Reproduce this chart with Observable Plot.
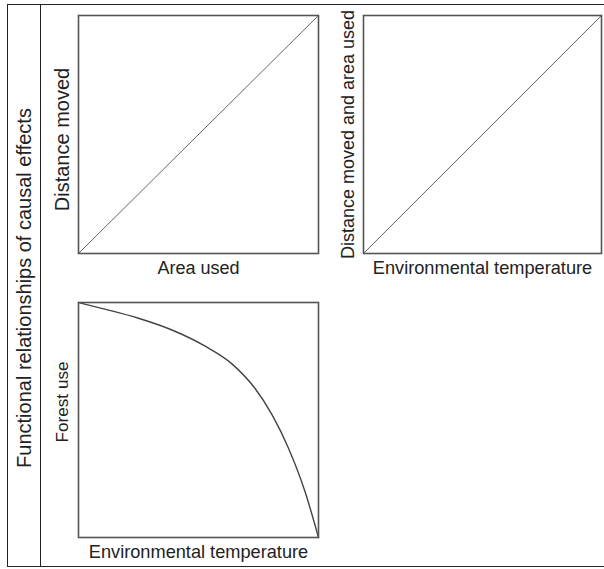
<!DOCTYPE html>
<html>
<head>
<meta charset="utf-8">
<script src="https://cdn.jsdelivr.net/npm/d3@7"></script>
<script src="https://cdn.jsdelivr.net/npm/@observablehq/plot@0.6"></script>
<style>
  html, body { margin: 0; padding: 0; background: #fff; }
  #wrap { position: relative; width: 604px; height: 569px; font-family: "Liberation Sans", Arial, sans-serif; color: #222; }
  .abs { position: absolute; }
  #outer { left: 7px; top: 4px; width: 597px; height: 563px; border: 1.5px solid #222; border-right: none; box-sizing: border-box; }
  #inner { left: 40px; top: 4px; width: 0; height: 563px; border-left: 1.5px solid #222; }
  #title { left: 24px; top: 288px; transform: translate(-50%, -50%) rotate(-90deg); white-space: nowrap; font-size: 20px; }
  svg { overflow: visible; }
</style>
</head>
<body>
<div id="wrap">
  <div id="outer" class="abs"></div>
  <div id="inner" class="abs"></div>
  <div id="title" class="abs">Functional relationships of causal effects</div>
  <div id="p1" class="abs" style="left:0;top:0"></div>
  <div id="p2" class="abs" style="left:320px;top:0"></div>
  <div id="p3" class="abs" style="left:0;top:290px"></div>
</div>
<script>
// Panel data (normalised 0..1 conceptual axes)
const areaUsed = [0, 1];
const distanceMoved = [0, 1];
const envTemp = [0, 1];
const distAndArea = [0, 1];
const forestTemp = [0, 0.109, 0.25, 0.387, 0.526, 0.638, 0.735, 0.805, 0.875, 0.944, 1];
const forestUse  = [1, 0.972, 0.933, 0.884, 0.815, 0.74, 0.635, 0.525, 0.38, 0.195, 0];

const xLabels = ["Area used", "Environmental temperature", "Environmental temperature"];
const yLabels = ["Distance moved", "Distance moved and area used", "Forest use"];

const font = "Liberation Sans, Arial, sans-serif";

function panel({xs, ys, xLabel, yLabel, width, height, ml, mr, mt, mb, lineColor, lineWidth, curve, xSize, ySize, ydx, ydy}) {
  const data = xs.map((x, i) => ({x, y: ys[i]}));
  return Plot.plot({
    width, height,
    marginLeft: ml, marginRight: mr, marginTop: mt, marginBottom: mb,
    x: {domain: [0, 1], axis: null},
    y: {domain: [0, 1], axis: null},
    style: {fontFamily: font, color: "#222", background: "transparent", overflow: "visible"},
    marks: [
      Plot.line(data, {x: "x", y: "y", stroke: lineColor, strokeWidth: lineWidth, curve}),
      Plot.frame({stroke: "#555", strokeWidth: 1.6}),
      Plot.text([xLabel], {frameAnchor: "bottom", dy: 15, text: d => d, fontSize: xSize, fill: "#222", textAnchor: "middle", lineAnchor: "middle"}),
      Plot.text([yLabel], {frameAnchor: "left", dx: ydx, dy: ydy, rotate: -90, text: d => d, fontSize: ySize, fill: "#222", textAnchor: "middle", lineAnchor: "middle"})
    ]
  });
}

document.getElementById("p1").appendChild(panel({
  xs: areaUsed, ys: distanceMoved, xLabel: xLabels[0], yLabel: yLabels[0],
  width: 320, height: 290, ml: 78, mr: 2, mt: 15, mb: 37,
  lineColor: "#666", lineWidth: 1, curve: "linear", xSize: 18, ySize: 20, ydx: -16, ydy: 5
}));
document.getElementById("p2").appendChild(panel({
  xs: envTemp, ys: distAndArea, xLabel: xLabels[1], yLabel: yLabels[1],
  width: 284, height: 290, ml: 43, mr: 3, mt: 15, mb: 37,
  lineColor: "#666", lineWidth: 1, curve: "linear", xSize: 18.2, ySize: 18, ydx: -15, ydy: 0
}));
document.getElementById("p3").appendChild(panel({
  xs: forestTemp, ys: forestUse, xLabel: xLabels[2], yLabel: yLabels[2],
  width: 320, height: 279, ml: 78, mr: 2, mt: 12, mb: 32,
  lineColor: "#444", lineWidth: 1.4, curve: "monotone-x", xSize: 18.2, ySize: 17.2, ydx: -16, ydy: -18
}));
</script>
</body>
</html>
